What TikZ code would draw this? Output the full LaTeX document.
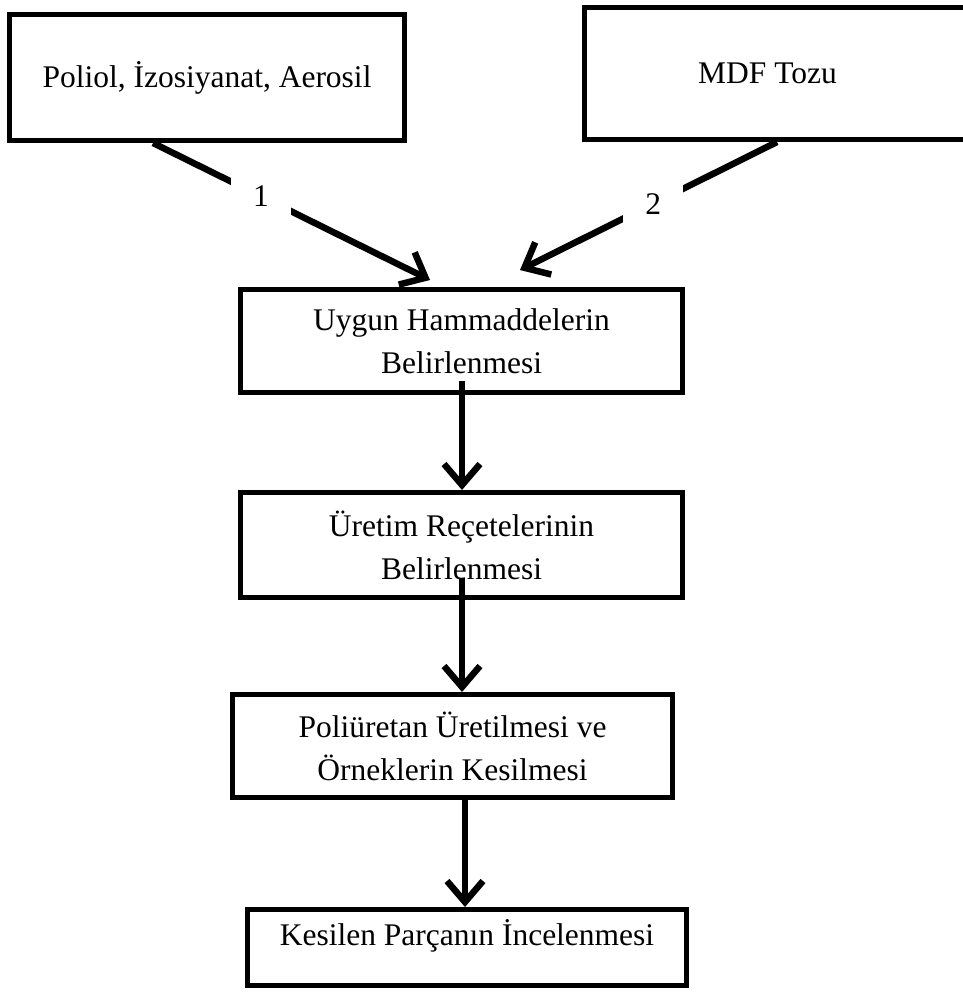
\documentclass[tikz,border=0pt]{standalone}
\usepackage{fontspec}
\setmainfont{Liberation Serif}
\usetikzlibrary{arrows.meta,calc}
\begin{document}
\begin{tikzpicture}[x=1pt,y=-1pt,
  box/.style={draw=black,line width=5pt,rectangle,inner sep=0pt,align=center,
    font=\fontsize{31.5}{43}\selectfont},
  conn/.style={draw=black,line width=6.5pt,-{Straight Barb[length=21pt,width=36pt]}},
  lbl/.style={fill=white,inner sep=0pt,minimum width=60pt,minimum height=40pt,
    font=\fontsize{31.5}{34}\selectfont}]
\useasboundingbox (0,0) rectangle (962,992);
\node[box,minimum width=395pt,minimum height=126pt] (b1) at (207,77.5) {Poliol, İzosiyanat, Aerosil};
\node[box,minimum width=390.5pt,minimum height=132pt] (b2) at (779.75,73.5) {MDF Tozu\hspace{24.5pt}};
\node[box,minimum width=442pt,minimum height=103pt] (b3) at (461.5,341) {Uygun Hammaddelerin\\Belirlenmesi};
\node[box,minimum width=442pt,minimum height=105pt] (b4) at (461.5,545) {Üretim Reçetelerinin\\Belirlenmesi};
\node[box,minimum width=440pt,minimum height=103pt] (b5) at (452.5,746) {Poliüretan Üretilmesi ve\\Örneklerin Kesilmesi};
\node[box,minimum width=439pt,minimum height=76pt,text depth=30pt] (b6) at (467,947.5) {Kesilen Parçanın İncelenmesi};
% connector end points
\coordinate (s1) at ($(b1.south)+(-54,0)$);
\coordinate (t1) at ($(b3.north)+(-31.5,-7)$);
\coordinate (s2) at ($(b2.south)+(-2.75,0)$);
\coordinate (t2) at ($(b3.north)+(58.5,-17)$);
\coordinate (s3) at ($(b3.south)+(0.5,-14.5)$);
\coordinate (s4) at ($(b4.south)+(0.5,-22.5)$);
\coordinate (s5) at ($(b5.south)+(12.5,0)$);
\draw[conn] (s1) -- node[lbl,pos=0.39,text depth=-4pt]{1} (t1);
\draw[conn] (s2) -- node[lbl,pos=0.482]{2} (t2);
\draw[conn] (s3) -- (s3 |- b4.north);
\draw[conn] (s4) -- (s4 |- b5.north);
\draw[conn] (s5) -- (s5 |- b6.north);
\end{tikzpicture}
\end{document}
